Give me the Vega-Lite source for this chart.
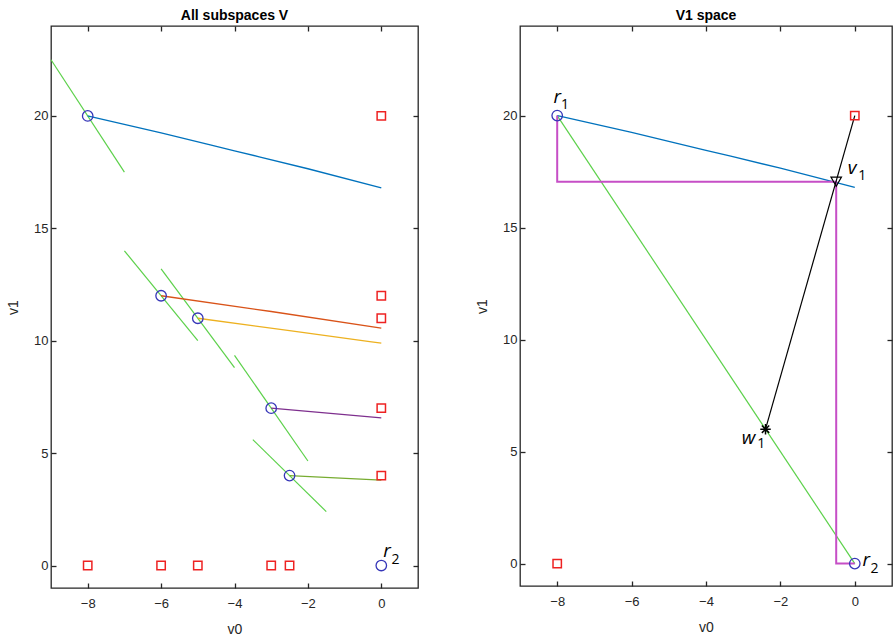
{
  "$schema": "https://vega.github.io/schema/vega-lite/v6.json",
  "background": "white",
  "padding": {"left": 5, "top": 8, "right": 0, "bottom": 5},
  "bounds": "flush",
  "spacing": 102,
  "config": {
    "view": {"stroke": "#262626", "strokeWidth": 1.3},
    "axis": {"labelFont": "Liberation Sans", "labelFontSize": 13, "labelColor": "#262626", "titleFont": "Liberation Sans", "titleFontSize": 14, "titleFontWeight": "normal", "titleColor": "#262626", "grid": false, "domain": false, "tickColor": "#262626", "tickWidth": 1.3, "tickSize": -5, "labelPadding": 8, "titlePadding": 8},
    "axisX": {"labelPadding": 14, "titlePadding": 12},
    "axisY": {"titlePadding": 13},
    "title": {"font": "Liberation Sans", "fontSize": 14, "fontWeight": "bold", "color": "#000000", "offset": 2}
  },
  "datasets": {
    "leftTangents": [
      {"x1": -9, "y1": 22.5, "x2": -7, "y2": 17.5},
      {"x1": -7, "y1": 14, "x2": -5, "y2": 10},
      {"x1": -6, "y1": 13.2, "x2": -4, "y2": 8.8},
      {"x1": -4, "y1": 9.35, "x2": -2, "y2": 4.65},
      {"x1": -3.5, "y1": 5.6, "x2": -1.5, "y2": 2.4}
    ],
    "leftCurves": [
      {"series": "a", "x": -8, "y": 20},
      {"series": "a", "x": -6, "y": 19.25},
      {"series": "a", "x": -4, "y": 18.45},
      {"series": "a", "x": -2, "y": 17.65},
      {"series": "a", "x": 0, "y": 16.8},
      {"series": "b", "x": -6, "y": 12},
      {"series": "b", "x": -3, "y": 11.3},
      {"series": "b", "x": 0, "y": 10.56},
      {"series": "c", "x": -5, "y": 11},
      {"series": "c", "x": -2.5, "y": 10.45},
      {"series": "c", "x": 0, "y": 9.89},
      {"series": "d", "x": -3, "y": 7},
      {"series": "d", "x": 0, "y": 6.57},
      {"series": "e", "x": -2.5, "y": 4},
      {"series": "e", "x": 0, "y": 3.8}
    ],
    "leftSquares": [
      {"x": 0, "y": 20}, {"x": 0, "y": 12}, {"x": 0, "y": 11}, {"x": 0, "y": 7}, {"x": 0, "y": 4},
      {"x": -8, "y": 0}, {"x": -6, "y": 0}, {"x": -5, "y": 0}, {"x": -3, "y": 0}, {"x": -2.5, "y": 0}
    ],
    "leftCircles": [
      {"x": -8, "y": 20}, {"x": -6, "y": 12}, {"x": -5, "y": 11}, {"x": -3, "y": 7}, {"x": -2.5, "y": 4}, {"x": 0, "y": 0}
    ],
    "leftLabels": [
      {"letter": "r", "lx": 0.05, "ly": 0.39, "sub": "2", "sx": 0.28, "sy": 0.08}
    ],
    "rightCurve": [
      {"x": -8, "y": 20},
      {"x": -6, "y": 19.25},
      {"x": -4, "y": 18.45},
      {"x": -2, "y": 17.65},
      {"x": 0, "y": 16.8}
    ],
    "rightPath": [
      {"order": 1, "x": -8, "y": 20},
      {"order": 2, "x": -8, "y": 17.05},
      {"order": 3, "x": -0.5, "y": 17.05},
      {"order": 4, "x": -0.5, "y": 0},
      {"order": 5, "x": 0, "y": 0}
    ],
    "rightGreen": [{"x1": -8, "y1": 20, "x2": 0, "y2": 0}],
    "rightBlack": [{"x1": 0, "y1": 20, "x2": -2.4, "y2": 6.0}],
    "rightSquares": [{"x": 0, "y": 20}, {"x": -8, "y": 0}],
    "rightCircles": [{"x": -8, "y": 20}, {"x": 0, "y": 0}],
    "rightTriangle": [{"x": -0.5, "y": 17.05}],
    "rightStar": [{"x": -2.4, "y": 6.0}],
    "rightLabels": [
      {"letter": "r", "lx": -8.1, "ly": 20.58, "sub": "1", "sx": -7.9, "sy": 20.28},
      {"letter": "v", "lx": -0.19, "ly": 17.4, "sub": "1", "sx": 0.09, "sy": 17.14},
      {"letter": "w", "lx": -3.04, "ly": 5.34, "sub": "1", "sx": -2.62, "sy": 5.14},
      {"letter": "r", "lx": 0.21, "ly": -0.12, "sub": "2", "sx": 0.42, "sy": -0.4}
    ]
  },
  "hconcat": [
    {
      "title": "All subspaces V",
      "width": 367,
      "height": 562,
      "resolve": {"axis": {"x": "independent", "y": "independent"}},
      "layer": [
        {
          "data": {"name": "leftTangents"},
          "mark": {"type": "rule", "color": "#5cd14a", "strokeWidth": 1.2},
          "encoding": {
            "x": {"field": "x1", "type": "quantitative", "scale": {"domain": [-9, 1], "nice": false, "zero": false}, "axis": {"title": "v0", "values": [-8, -6, -4, -2, 0]}},
            "y": {"field": "y1", "type": "quantitative", "scale": {"domain": [-1, 24], "nice": false, "zero": false}, "axis": {"title": "v1", "values": [0, 5, 10, 15, 20]}},
            "x2": {"field": "x2"},
            "y2": {"field": "y2"}
          }
        },
        {
          "data": {"name": "leftCurves"},
          "mark": {"type": "line", "strokeWidth": 1.3, "interpolate": "monotone"},
          "encoding": {
            "x": {"field": "x", "type": "quantitative", "axis": {"orient": "top", "labels": false, "title": null, "values": [-8, -6, -4, -2, 0]}},
            "y": {"field": "y", "type": "quantitative", "axis": {"orient": "right", "labels": false, "title": null, "values": [0, 5, 10, 15, 20]}},
            "color": {"field": "series", "type": "nominal", "scale": {"domain": ["a", "b", "c", "d", "e"], "range": ["#0072BD", "#D95319", "#EDB120", "#7E2F8E", "#77AC30"]}, "legend": null}
          }
        },
        {
          "data": {"name": "leftSquares"},
          "mark": {"type": "point", "shape": "square", "filled": false, "color": "#ee2222", "size": 70, "strokeWidth": 1.5, "opacity": 1},
          "encoding": {
            "x": {"field": "x", "type": "quantitative", "axis": null},
            "y": {"field": "y", "type": "quantitative", "axis": null}
          }
        },
        {
          "data": {"name": "leftCircles"},
          "mark": {"type": "point", "shape": "circle", "filled": false, "color": "#3636b8", "size": 110, "strokeWidth": 1.3, "opacity": 1},
          "encoding": {
            "x": {"field": "x", "type": "quantitative", "axis": null},
            "y": {"field": "y", "type": "quantitative", "axis": null}
          }
        },
        {
          "data": {"name": "leftLabels"},
          "mark": {"type": "text", "font": "Open Sans", "fontStyle": "italic", "fontSize": 19, "align": "left", "baseline": "alphabetic", "color": "#000000"},
          "encoding": {
            "x": {"field": "lx", "type": "quantitative", "axis": null},
            "y": {"field": "ly", "type": "quantitative", "axis": null},
            "text": {"field": "letter"}
          }
        },
        {
          "data": {"name": "leftLabels"},
          "mark": {"type": "text", "font": "Open Sans", "fontSize": 14, "align": "left", "baseline": "alphabetic", "color": "#000000"},
          "encoding": {
            "x": {"field": "sx", "type": "quantitative", "axis": null},
            "y": {"field": "sy", "type": "quantitative", "axis": null},
            "text": {"field": "sub"}
          }
        }
      ]
    },
    {
      "title": "V1 space",
      "width": 372,
      "height": 560,
      "resolve": {"axis": {"x": "independent", "y": "independent"}},
      "layer": [
        {
          "data": {"name": "rightGreen"},
          "mark": {"type": "rule", "color": "#5cd14a", "strokeWidth": 1.2},
          "encoding": {
            "x": {"field": "x1", "type": "quantitative", "scale": {"domain": [-9, 1], "nice": false, "zero": false}, "axis": {"title": "v0", "values": [-8, -6, -4, -2, 0]}},
            "y": {"field": "y1", "type": "quantitative", "scale": {"domain": [-1, 24], "nice": false, "zero": false}, "axis": {"title": "v1", "values": [0, 5, 10, 15, 20]}},
            "x2": {"field": "x2"},
            "y2": {"field": "y2"}
          }
        },
        {
          "data": {"name": "rightCurve"},
          "mark": {"type": "line", "strokeWidth": 1.3, "color": "#0072BD", "interpolate": "monotone"},
          "encoding": {
            "x": {"field": "x", "type": "quantitative", "axis": {"orient": "top", "labels": false, "title": null, "values": [-8, -6, -4, -2, 0]}},
            "y": {"field": "y", "type": "quantitative", "axis": {"orient": "right", "labels": false, "title": null, "values": [0, 5, 10, 15, 20]}}
          }
        },
        {
          "data": {"name": "rightPath"},
          "mark": {"type": "line", "strokeWidth": 2, "color": "#c64ec6"},
          "encoding": {
            "x": {"field": "x", "type": "quantitative", "axis": null},
            "y": {"field": "y", "type": "quantitative", "axis": null},
            "order": {"field": "order", "type": "quantitative"}
          }
        },
        {
          "data": {"name": "rightBlack"},
          "mark": {"type": "rule", "color": "#000000", "strokeWidth": 1.2},
          "encoding": {
            "x": {"field": "x1", "type": "quantitative", "axis": null},
            "y": {"field": "y1", "type": "quantitative", "axis": null},
            "x2": {"field": "x2"},
            "y2": {"field": "y2"}
          }
        },
        {
          "data": {"name": "rightSquares"},
          "mark": {"type": "point", "shape": "square", "filled": false, "color": "#ee2222", "size": 70, "strokeWidth": 1.5, "opacity": 1},
          "encoding": {
            "x": {"field": "x", "type": "quantitative", "axis": null},
            "y": {"field": "y", "type": "quantitative", "axis": null}
          }
        },
        {
          "data": {"name": "rightCircles"},
          "mark": {"type": "point", "shape": "circle", "filled": false, "color": "#3636b8", "size": 110, "strokeWidth": 1.3, "opacity": 1},
          "encoding": {
            "x": {"field": "x", "type": "quantitative", "axis": null},
            "y": {"field": "y", "type": "quantitative", "axis": null}
          }
        },
        {
          "data": {"name": "rightTriangle"},
          "mark": {"type": "point", "shape": "triangle-down", "filled": false, "color": "#000000", "size": 110, "strokeWidth": 1.2, "opacity": 1},
          "encoding": {
            "x": {"field": "x", "type": "quantitative", "axis": null},
            "y": {"field": "y", "type": "quantitative", "axis": null}
          }
        },
        {
          "data": {"name": "rightStar"},
          "mark": {"type": "point", "shape": "M-1,0L1,0M0,-1L0,1M-0.7,-0.7L0.7,0.7M-0.7,0.7L0.7,-0.7", "filled": false, "color": "#000000", "size": 110, "strokeWidth": 1.5, "opacity": 1},
          "encoding": {
            "x": {"field": "x", "type": "quantitative", "axis": null},
            "y": {"field": "y", "type": "quantitative", "axis": null}
          }
        },
        {
          "data": {"name": "rightLabels"},
          "mark": {"type": "text", "font": "Open Sans", "fontStyle": "italic", "fontSize": 19, "align": "left", "baseline": "alphabetic", "color": "#000000"},
          "encoding": {
            "x": {"field": "lx", "type": "quantitative", "axis": null},
            "y": {"field": "ly", "type": "quantitative", "axis": null},
            "text": {"field": "letter"}
          }
        },
        {
          "data": {"name": "rightLabels"},
          "mark": {"type": "text", "font": "Open Sans", "fontSize": 14, "align": "left", "baseline": "alphabetic", "color": "#000000"},
          "encoding": {
            "x": {"field": "sx", "type": "quantitative", "axis": null},
            "y": {"field": "sy", "type": "quantitative", "axis": null},
            "text": {"field": "sub"}
          }
        }
      ]
    }
  ]
}
